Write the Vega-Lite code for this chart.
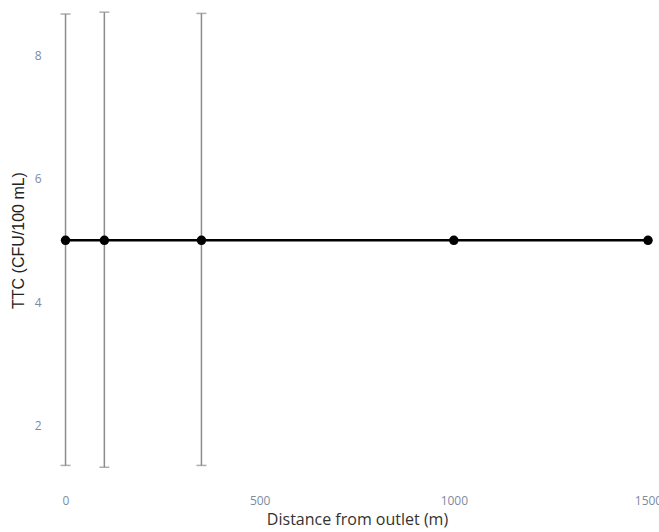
{
  "$schema": "https://vega.github.io/schema/vega-lite/v6.json",
  "autosize": {"type": "none"},
  "width": 598,
  "height": 481,
  "padding": {"left": 50, "top": 6, "right": 11, "bottom": 45},
  "config": {
    "view": {"stroke": null},
    "font": "Open Sans",
    "axis": {
      "grid": false,
      "domain": false,
      "ticks": false,
      "labelFont": "Open Sans",
      "labelFontSize": 12,
      "labelColor": "#7d8ba0",
      "titleFont": "Open Sans",
      "titleFontSize": 16,
      "titleFontWeight": "normal",
      "titleColor": "#333333"
    }
  },
  "data": {
    "values": [
      {"distance": 0, "ttc": 5, "lo": 1.35, "hi": 8.67},
      {"distance": 100, "ttc": 5, "lo": 1.32, "hi": 8.70},
      {"distance": 350, "ttc": 5, "lo": 1.35, "hi": 8.68},
      {"distance": 1000, "ttc": 5, "lo": null, "hi": null},
      {"distance": 1500, "ttc": 5, "lo": null, "hi": null}
    ]
  },
  "encoding": {
    "x": {
      "field": "distance",
      "type": "quantitative",
      "scale": {"domain": [-40, 1500], "nice": false, "zero": false},
      "axis": {"values": [0, 500, 1000, 1500], "format": "d", "title": "Distance from outlet (m)", "labelPadding": 8, "titlePadding": 5, "titleX": 307, "labelFlush": false}
    }
  },
  "layer": [
    {
      "mark": {"type": "rule", "color": "#8c8c8c", "strokeWidth": 1.5},
      "encoding": {
        "y": {
          "field": "lo",
          "type": "quantitative",
          "scale": {"domain": [1, 8.8], "nice": false, "zero": false},
          "axis": {"values": [2, 4, 6, 8], "format": "d", "title": "TTC (CFU/100 mL)", "titleFont": "Liberation Sans", "titleFontSize": 16, "titleColor": "#222222", "labelPadding": 9, "titlePadding": 8, "titleY": 234}
        },
        "y2": {"field": "hi"}
      }
    },
    {
      "mark": {"type": "tick", "orient": "horizontal", "color": "#8c8c8c", "size": 10, "thickness": 1.5},
      "encoding": {"y": {"field": "lo", "type": "quantitative"}}
    },
    {
      "mark": {"type": "tick", "orient": "horizontal", "color": "#8c8c8c", "size": 10, "thickness": 1.5},
      "encoding": {"y": {"field": "hi", "type": "quantitative"}}
    },
    {
      "mark": {"type": "line", "color": "#000000", "strokeWidth": 2.5},
      "encoding": {"y": {"field": "ttc", "type": "quantitative"}}
    },
    {
      "mark": {"type": "point", "filled": true, "color": "#000000", "size": 90, "opacity": 1},
      "encoding": {"y": {"field": "ttc", "type": "quantitative"}}
    }
  ]
}
